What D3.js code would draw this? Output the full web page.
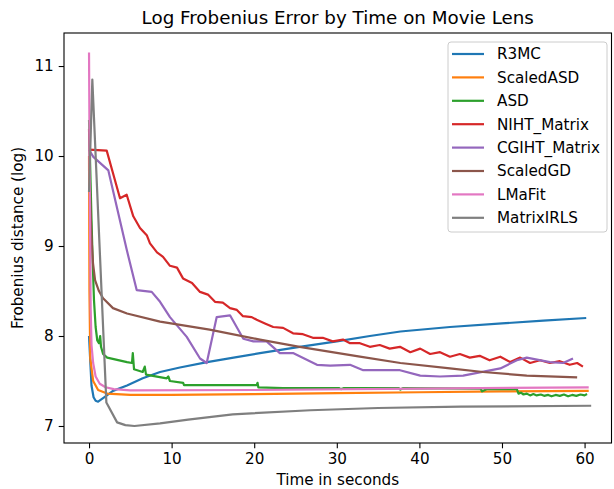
<!DOCTYPE html>
<html>
<head>
<meta charset="utf-8">
<script src="https://cdn.jsdelivr.net/npm/d3@7"></script>
<style>
  body { margin: 0; background: #fff; }
  text { font-family: "DejaVu Sans", sans-serif; fill: #000; }
</style>
</head>
<body>
<script>
// values, [seconds, log frobenius distance]
const seriesNames = ["R3MC", "ScaledASD", "ASD", "NIHT_Matrix", "CGIHT_Matrix", "ScaledGD", "LMaFit", "MatrixIRLS"];

const r3mc = [[0, 8.0], [0.15, 7.72], [0.3, 7.45], [0.55, 7.32], [0.8, 7.28], [1.1, 7.27], [2.0, 7.33],
  [2.9, 7.39], [4.6, 7.45], [6.5, 7.53], [8.6, 7.6], [11, 7.65], [14.3, 7.71], [17.5, 7.76], [20.7, 7.81],
  [25.5, 7.88], [30, 7.94], [34, 8.0], [37.7, 8.05], [43.7, 8.1], [50, 8.14], [55, 8.17], [60.2, 8.2]];

const scaledASD = [[0, 10.0], [0.05, 8.5], [0.15, 7.75], [0.5, 7.5], [1.1, 7.4], [2.2, 7.36], [5, 7.345],
  [10, 7.345], [20, 7.355], [30, 7.365], [40, 7.375], [50, 7.385], [60.5, 7.39]];

const asd = [[0, 10.4], [0.3, 9.3], [0.45, 8.8], [0.6, 8.4], [0.8, 8.1], [1.0, 7.95], [1.2, 7.92], [1.35, 8.0],
  [1.45, 7.88], [1.7, 7.8], [2.2, 7.76], [4.6, 7.71], [5.2, 7.7], [5.3, 7.81], [5.45, 7.63], [6.5, 7.6],
  [6.75, 7.66], [6.9, 7.57], [9.4, 7.53], [9.6, 7.55], [9.8, 7.5], [11.4, 7.48], [11.5, 7.455], [20.3, 7.455],
  [20.4, 7.48], [20.5, 7.43], [23.5, 7.42], [30.3, 7.42], [30.5, 7.41], [30.8, 7.42], [37.5, 7.42], [37.7, 7.405],
  [38, 7.42], [47.4, 7.415], [47.6, 7.385], [48.2, 7.41], [51.8, 7.41], [52, 7.36], [52.3, 7.37], [52.6, 7.35],
  [53, 7.36], [53.4, 7.34], [53.8, 7.355], [54.2, 7.34], [54.7, 7.35], [55.1, 7.335], [55.6, 7.345], [56, 7.33],
  [56.5, 7.345], [57, 7.335], [57.5, 7.35], [58, 7.33], [58.5, 7.345], [59, 7.335], [59.5, 7.35], [60, 7.34],
  [60.3, 7.355]];

const niht = [[0, 10.07], [2.14, 10.06], [3.75, 9.53], [4.56, 9.57], [5.36, 9.33], [6.17, 9.2], [6.99, 9.12],
  [7.38, 9.03], [8.23, 8.93], [8.96, 8.88], [9.8, 8.78], [10.65, 8.76], [11.38, 8.64], [12.47, 8.59],
  [13.44, 8.49], [14.4, 8.46], [15.25, 8.38], [16.2, 8.37], [17.07, 8.31], [17.9, 8.29], [18.64, 8.22],
  [19.7, 8.21], [20.3, 8.18], [21.3, 8.14], [22.3, 8.1], [23.5, 8.09], [24.7, 8.03], [25.9, 8.02], [27.1, 7.98],
  [28.3, 7.98], [29.5, 7.94], [30.75, 7.96], [31.6, 7.92], [32.8, 7.92], [34.0, 7.88], [35.2, 7.9], [36.4, 7.86],
  [37.65, 7.88], [38.9, 7.82], [40.1, 7.86], [41.3, 7.8], [42.5, 7.82], [43.7, 7.77], [44.9, 7.8], [46.1, 7.76],
  [47.3, 7.78], [48.5, 7.73], [49.8, 7.77], [51.0, 7.71], [52.2, 7.76], [53.4, 7.7], [54.6, 7.73], [55.8, 7.7],
  [57.0, 7.72], [58.2, 7.68], [59.1, 7.7], [59.8, 7.66]];

const cgiht = [[0, 10.07], [0.52, 9.99], [2.34, 9.84], [4.56, 8.96], [5.77, 8.51], [7.59, 8.49], [8.6, 8.38],
  [9.8, 8.21], [11.83, 7.99], [13.44, 7.75], [14.25, 7.7], [15.46, 8.21], [17.07, 8.23], [18.68, 7.97],
  [19.9, 7.94], [21.5, 7.94], [23.1, 7.81], [24.7, 7.81], [27.6, 7.68], [29.2, 7.67], [31.6, 7.68], [33.2, 7.62],
  [37.65, 7.62], [40.1, 7.56], [42.5, 7.55], [45.3, 7.56], [47.0, 7.59], [49.8, 7.64], [51.8, 7.73], [53.0, 7.76],
  [55.8, 7.71], [57.4, 7.7], [58.6, 7.75]];

const scaledGD = [[0, 10.3], [0.15, 9.5], [0.3, 9.1], [0.48, 8.81], [0.73, 8.62], [1.2, 8.5], [1.7, 8.42],
  [2.9, 8.31], [4.6, 8.25], [8.6, 8.16], [14.6, 8.07], [20.7, 7.96], [25.5, 7.88], [32.8, 7.77], [37.7, 7.7],
  [43.7, 7.64], [47.7, 7.6], [53, 7.56], [59.1, 7.54]];

const lmafit = [[0, 11.15], [0.1, 9.5], [0.2, 8.3], [0.3, 7.9], [0.5, 7.7], [0.8, 7.55], [1.3, 7.47], [2, 7.43],
  [3, 7.41], [5, 7.395], [20, 7.4], [40, 7.415], [60.5, 7.43]];

const matrixIRLS = [[0, 9.6], [0.4, 10.85], [2.1, 7.26], [3.4, 7.04], [4.4, 7.01], [5.5, 7.0], [8.6, 7.03],
  [12, 7.07], [17.4, 7.13], [26.8, 7.175], [35, 7.2], [45, 7.215], [60.8, 7.225]];

const seriesData = [r3mc, scaledASD, asd, niht, cgiht, scaledGD, lmafit, matrixIRLS];
const colors = ["#1f77b4", "#ff7f0e", "#2ca02c", "#d62728", "#9467bd", "#8c564b", "#e377c2", "#7f7f7f"];

const xTicks = [0, 10, 20, 30, 40, 50, 60];
const yTicks = [7, 8, 9, 10, 11];

const w = 614, h = 489;
const plotLeft = 64, plotRight = 611.5, plotTop = 33, plotBottom = 443;

const svg = d3.select("body").append("svg")
  .attr("width", w)
  .attr("height", h);

const x = d3.scaleLinear().domain([-3.03, 63.26]).range([plotLeft, plotRight]);
const y = d3.scaleLinear().domain([6.811, 11.367]).range([plotBottom, plotTop]);

svg.append("clipPath").attr("id", "clip")
  .append("rect")
  .attr("x", plotLeft).attr("y", plotTop)
  .attr("width", plotRight - plotLeft).attr("height", plotBottom - plotTop);

const line = d3.line()
  .x(d => x(d[0]))
  .y(d => y(d[1]));

svg.append("g")
  .attr("clip-path", "url(#clip)")
  .selectAll("path")
  .data(seriesData)
  .join("path")
  .attr("d", line)
  .attr("fill", "none")
  .attr("stroke", (d, i) => colors[i])
  .attr("stroke-width", 2.2)
  .attr("stroke-linejoin", "round");

// axes
const xAxis = d3.axisBottom(x).tickValues(xTicks).tickFormat(d3.format("d"))
  .tickSize(5.3).tickPadding(4.5).tickSizeOuter(0);
const yAxis = d3.axisLeft(y).tickValues(yTicks).tickFormat(d3.format("d"))
  .tickSize(5.3).tickPadding(5).tickSizeOuter(0);

const gx = svg.append("g")
  .attr("transform", "translate(0," + plotBottom + ")")
  .call(xAxis);
const gy = svg.append("g")
  .attr("transform", "translate(" + plotLeft + ",0)")
  .call(yAxis);

[gx, gy].forEach(g => {
  g.select(".domain").remove();
  g.selectAll("line").attr("stroke", "#000").attr("stroke-width", 1.1);
  g.selectAll("text").attr("font-size", 15.2).attr("font-family", "DejaVu Sans").attr("fill", "#000");
});
gx.selectAll("text").attr("dy", "0.76em");

// frame
svg.append("rect")
  .attr("x", plotLeft).attr("y", plotTop)
  .attr("width", plotRight - plotLeft).attr("height", plotBottom - plotTop)
  .attr("fill", "none")
  .attr("stroke", "#000")
  .attr("stroke-width", 1.1);

// title and labels
svg.append("text")
  .attr("x", (plotLeft + plotRight) / 2).attr("y", 24)
  .attr("text-anchor", "middle")
  .attr("font-size", 18.3)
  .text("Log Frobenius Error by Time on Movie Lens");

svg.append("text")
  .attr("x", (plotLeft + plotRight) / 2).attr("y", 485)
  .attr("text-anchor", "middle")
  .attr("font-size", 15.2)
  .text("Time in seconds");

svg.append("text")
  .attr("transform", "translate(23," + ((plotTop + plotBottom) / 2) + ") rotate(-90)")
  .attr("text-anchor", "middle")
  .attr("font-size", 15.2)
  .text("Frobenius distance (log)");

// legend
const legend = svg.append("g");
legend.append("rect")
  .attr("x", 448).attr("y", 42)
  .attr("width", 159).attr("height", 190)
  .attr("rx", 3)
  .attr("fill", "#fff")
  .attr("fill-opacity", 0.8)
  .attr("stroke", "#cccccc")
  .attr("stroke-width", 1);

const rows = legend.selectAll("g.row")
  .data(seriesNames)
  .join("g")
  .attr("class", "row")
  .attr("transform", (d, i) => "translate(0," + (54 + i * 23.4) + ")");

rows.append("line")
  .attr("x1", 452).attr("x2", 484)
  .attr("stroke", (d, i) => colors[i])
  .attr("stroke-width", 2.2);

rows.append("text")
  .attr("x", 497)
  .attr("dy", "0.36em")
  .attr("font-size", 15.2)
  .text(d => d);
</script>
</body>
</html>
